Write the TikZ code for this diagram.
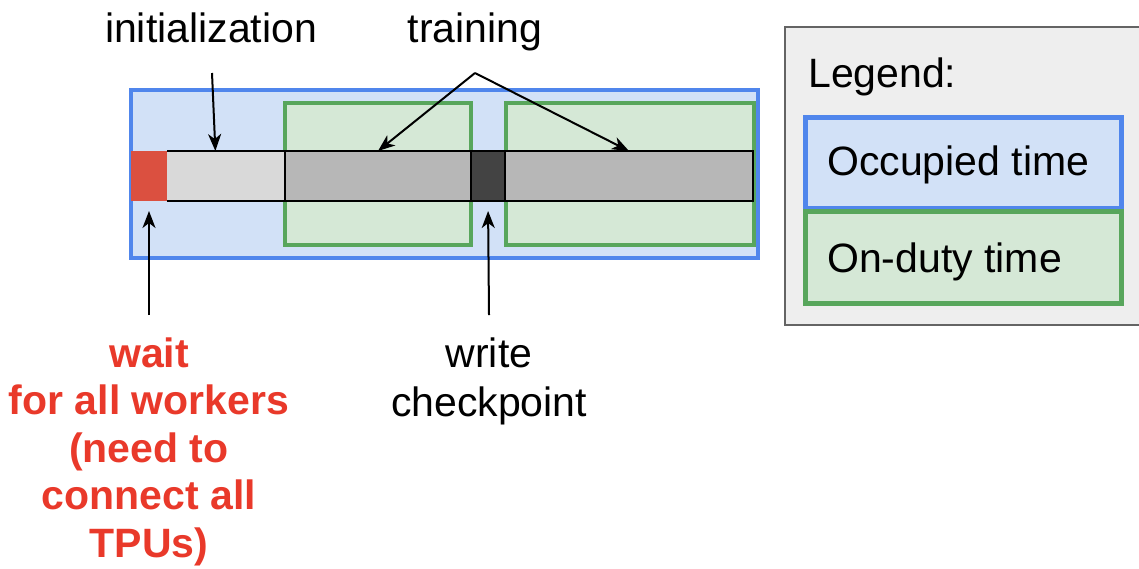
\documentclass[tikz,border=0pt]{standalone}
\usepackage{fontspec}
\setmainfont{Liberation Sans}
\usetikzlibrary{arrows.meta,calc}

\definecolor{occfill}{RGB}{210,225,247}
\definecolor{occline}{RGB}{80,134,236}
\definecolor{dutyfill}{RGB}{213,232,214}
\definecolor{dutyline}{RGB}{88,166,92}
\definecolor{waitred}{RGB}{219,80,64}
\definecolor{textred}{RGB}{233,57,42}
\definecolor{initgray}{RGB}{217,217,217}
\definecolor{traingray}{RGB}{183,183,183}
\definecolor{ckptgray}{RGB}{67,67,67}
\definecolor{legendbg}{RGB}{238,238,238}
\definecolor{legendline}{RGB}{100,100,100}

\begin{document}
\begin{tikzpicture}[x=1pt,y=-1pt,
  lbl/.style={font=\fontsize{41}{49}\selectfont, inner sep=0pt, anchor=base},
  boldlbl/.style={lbl, font=\fontsize{41}{47.5}\selectfont\bfseries, text=textred},
  occupied/.style={draw=occline, fill=occfill, line width=4pt},
  onduty/.style={draw=dutyline, fill=dutyfill, line width=4pt},
  seg/.style={draw=black, line width=2pt, inner sep=0pt, outer sep=0pt,
    minimum height=50pt, anchor=west},
  pointer/.style={-{Stealth[length=17pt,width=13pt,inset=5pt]}, line width=2pt},
]
\useasboundingbox (0,0) rectangle (1139,568);
\clip (0,0) rectangle (1139,568);

% occupied window and the two on-duty windows
\draw[occupied] (131,90) rectangle (758,258);
\draw[onduty] (285,103) rectangle (471,245);
\draw[onduty] (506,103) rectangle (754,245);

% timeline segments
\node[seg, fill=waitred, draw=none, minimum width=36pt] (wait) at (131,176) {};
\node[seg, fill=initgray, draw=none, minimum width=118pt] (init) at (167,176) {};
\draw[line width=2pt] (init.north west) -- (init.north east)
                      (init.south west) -- (init.south east);
\node[seg, fill=traingray, minimum width=186pt] (train1) at (285,176) {};
\node[seg, fill=ckptgray, minimum width=34pt] (ckpt) at (471,176) {};
\node[seg, fill=traingray, minimum width=248pt] (train2) at (505,176) {};

% labels above the timeline
\node[lbl] (initlbl) at (211,42) {initialization};
\coordinate (initfrom) at (212,73);
\draw[pointer] (initfrom) -- ($(init.north west)!0.41!(init.north east)$);

\node[lbl] (trainlbl) at (475,42) {training};
\coordinate (fork) at (475,73);
\draw[pointer] (fork) -- (train1.north);
\draw[pointer] (fork) -- (train2.north);

% labels below the timeline (base anchor sits on the last line)
\coordinate (waitfrom) at (149,315);
\draw[pointer, shorten >=10pt] (waitfrom) -- (wait.south);
\node[boldlbl, align=center] (waitlbl) at (149,557)
  {wait\\for all workers\\(need to\\connect all\\TPUs)};

\coordinate (ckptfrom) at (489,315);
\draw[pointer, shorten >=10pt] (ckptfrom) -- (ckpt.south);
\node[lbl, align=center] (ckptlbl) at (489,416) {write\\checkpoint};

% legend
\draw[fill=legendbg, draw=legendline, line width=2pt] (785,27) rectangle (1150,325);
\node[lbl, anchor=base west] (legendlbl) at (808,87) {Legend:};
\draw[occupied, line width=5pt] (805,117) rectangle (1121,208);
\draw[onduty, line width=5pt] (805,211) rectangle (1121,303);
\node[lbl, anchor=base west] (occlbl) at (827,175) {Occupied time};
\node[lbl, anchor=base west] (dutylbl) at (827,272) {On-duty time};
\end{tikzpicture}
\end{document}
